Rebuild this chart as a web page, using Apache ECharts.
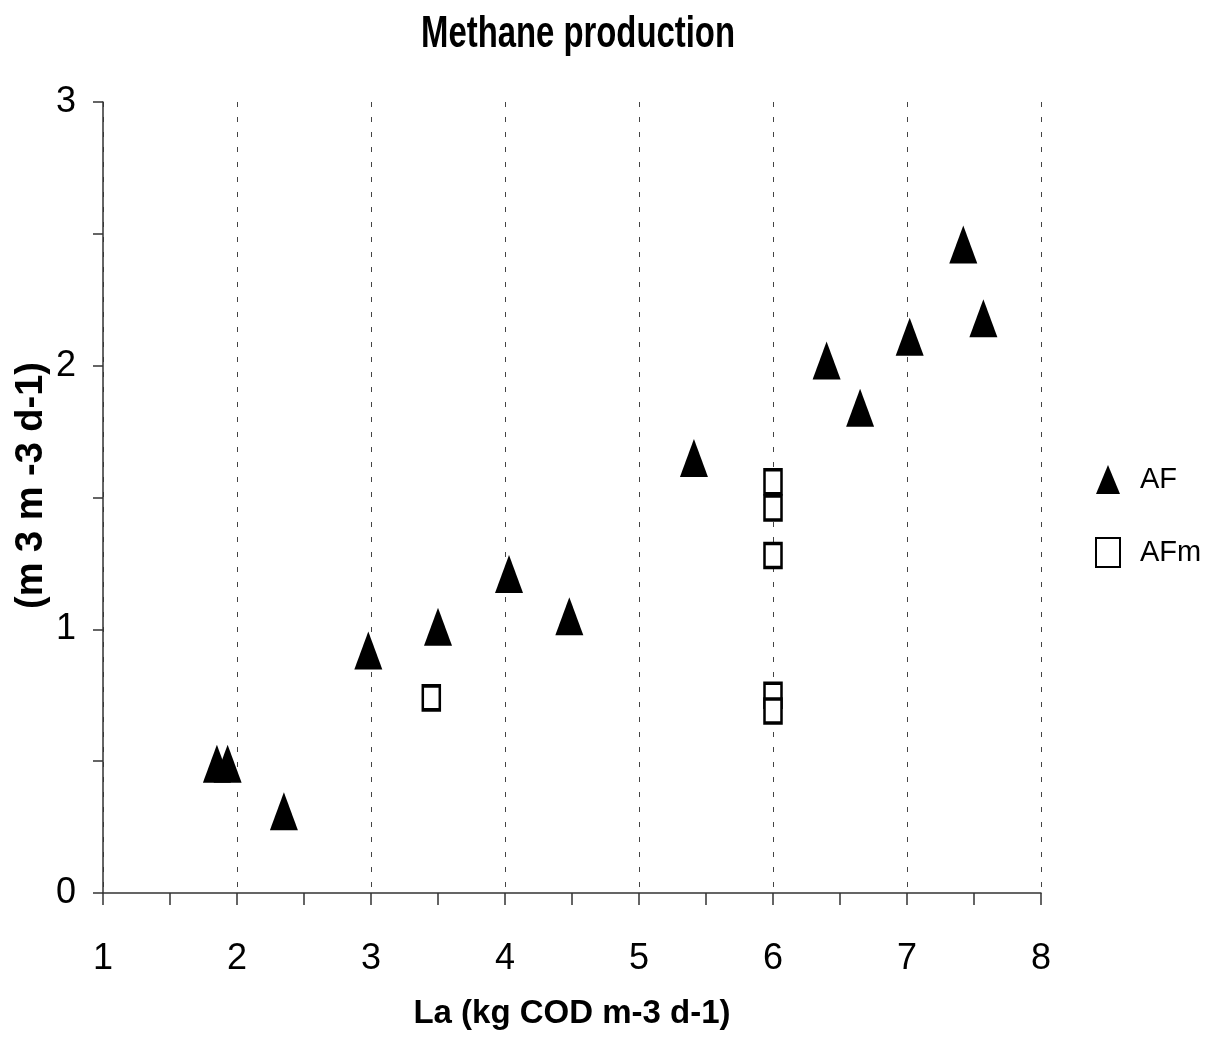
<!DOCTYPE html>
<html>
<head>
<meta charset="utf-8">
<script src="https://cdn.jsdelivr.net/npm/echarts@6/dist/echarts.min.js"></script>
<style>html,body{margin:0;padding:0;background:#fff}#c{width:1205px;height:1037px}</style>
</head>
<body>
<div id="c"></div>
<script>
const titleText = 'Methane production';
const xAxisName = 'La (kg COD m-3 d-1)';
const yAxisName = '(m 3 m -3 d-1)';
const seriesNames = ['AF', 'AFm'];
const afX = [1.85, 1.93, 2.35, 2.98, 3.50, 4.03, 4.48, 5.41, 6.40, 6.65, 7.02, 7.42, 7.57];
const afY = [0.49, 0.49, 0.31, 0.92, 1.01, 1.21, 1.05, 1.65, 2.02, 1.84, 2.11, 2.46, 2.18];
const afmX = [3.45, 6.0, 6.0, 6.0, 6.0, 6.0];
const afmY = [0.74, 1.56, 1.46, 1.28, 0.75, 0.69];

const font = '"Liberation Sans", Arial, sans-serif';
const chart = echarts.init(document.getElementById('c'), null, {renderer: 'canvas'});
chart.setOption({
  backgroundColor: '#fff',
  animation: false,
  graphic: [{
    type: 'text', x: 578, y: 35, scaleX: 0.73, scaleY: 1,
    style: {
      text: titleText, fill: '#000', textAlign: 'center', textVerticalAlign: 'middle',
      font: 'bold 45px "Liberation Sans", Arial, sans-serif'
    }
  }],
  legend: {
    orient: 'vertical', left: 1090, top: 460, itemGap: 43,
    itemWidth: 24, itemHeight: 29,
    textStyle: {fontFamily: font, fontSize: 29, color: '#000', padding: [0, 0, 0, 15]},
    data: seriesNames
  },
  grid: {left: 103, right: 164, top: 102, bottom: 144, containLabel: false},
  xAxis: {
    type: 'value', min: 1, max: 8, interval: 1,
    name: xAxisName, nameLocation: 'middle', nameGap: 104, nameMoveOverlap: false,
    nameTextStyle: {fontFamily: font, fontWeight: 'bold', fontSize: 33, color: '#000'},
    axisLine: {show: true, onZero: false, lineStyle: {color: '#333', width: 1.5}},
    axisTick: {show: true, length: 12, lineStyle: {color: '#333', width: 1.5}},
    minorTick: {show: true, splitNumber: 2, length: 12, lineStyle: {color: '#333', width: 1.5}},
    axisLabel: {fontFamily: font, fontSize: 36, color: '#000', margin: 48},
    splitLine: {show: true, lineStyle: {color: '#444', type: [5, 10], width: 1}}
  },
  yAxis: {
    type: 'value', min: 0, max: 3, interval: 1,
    name: yAxisName, nameLocation: 'middle', nameGap: 52, nameRotate: 90, nameMoveOverlap: false,
    nameTextStyle: {fontFamily: font, fontWeight: 'bold', fontSize: 38, color: '#000', padding: [0, 0, 0, 24]},
    axisLine: {show: true, onZero: false, lineStyle: {color: '#333', width: 1.5}},
    axisTick: {show: true, length: 10, lineStyle: {color: '#333', width: 1.5}},
    minorTick: {show: true, splitNumber: 2, length: 10, lineStyle: {color: '#333', width: 1.5}},
    axisLabel: {fontFamily: font, fontSize: 36, color: '#000', margin: 27},
    splitLine: {show: false}
  },
  series: [
    {
      name: seriesNames[0], type: 'scatter', symbol: 'triangle', symbolSize: [28, 38],
      itemStyle: {color: '#000', opacity: 1},
      data: afX.map((x, i) => [x, afY[i]])
    },
    {
      name: seriesNames[1], type: 'scatter', symbol: 'rect', symbolSize: [17, 24],
      itemStyle: {color: '#fff', borderColor: '#000', borderWidth: 3, opacity: 1},
      data: afmX.map((x, i) => [x, afmY[i]])
    }
  ]
});
</script>
</body>
</html>
